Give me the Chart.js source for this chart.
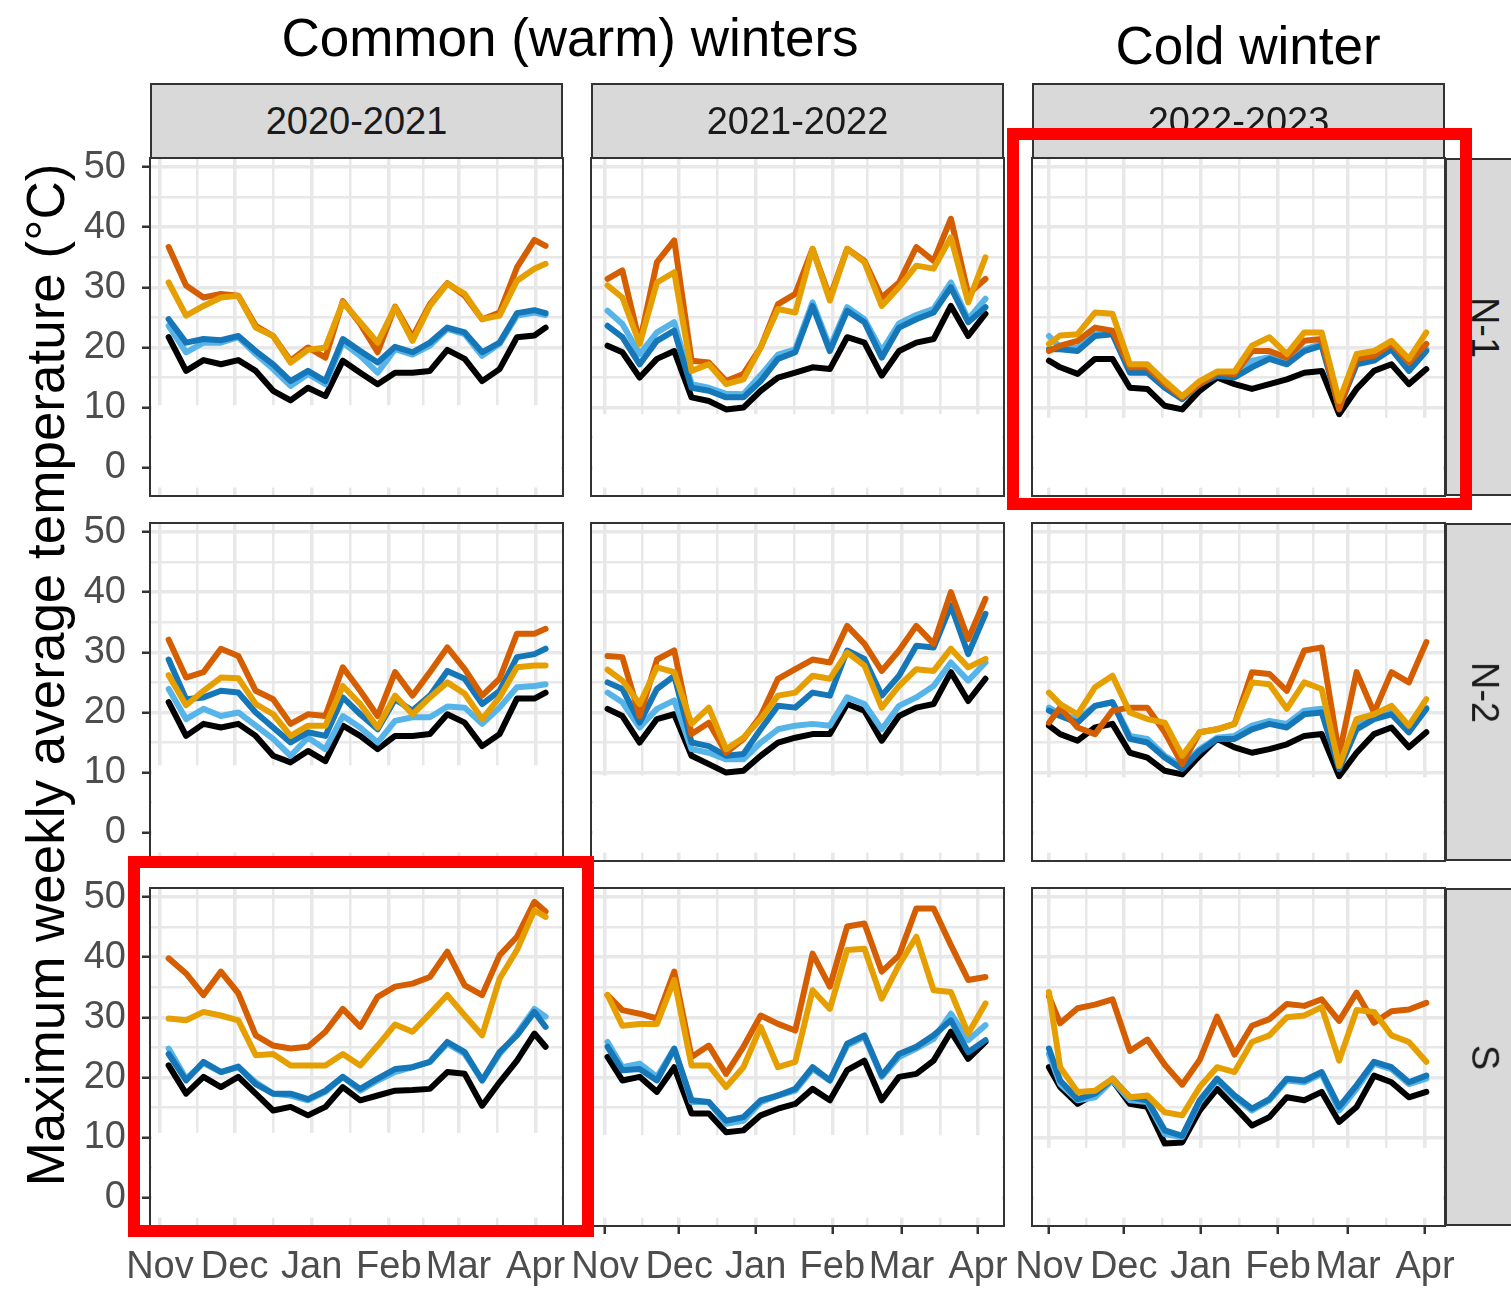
<!DOCTYPE html>
<html>
<head>
<meta charset="utf-8">
<script src="https://cdn.jsdelivr.net/npm/chart.js@4.4.1/dist/chart.umd.min.js"></script>
<style>
html, body { margin: 0; padding: 0; background: #fff; overflow: hidden; }
body { width: 1511px; height: 1290px; position: relative; font-family: "Liberation Sans", Arial, sans-serif; }
canvas { position: absolute; }
.strip { position: absolute; background: #d9d9d9; border: 2px solid #333; box-sizing: border-box; color: #1a1a1a;
         font-size: 38px; display: flex; align-items: center; justify-content: center; z-index: 2; }
.rot { transform: rotate(90deg); white-space: nowrap; }
.title { position: absolute; font-size: 53px; color: #000; white-space: nowrap; transform: translate(-50%, -50%); }
.redbox { position: absolute; border: 12px solid #ff0000; box-sizing: border-box; z-index: 10; }
</style>
</head>
<body>
<div class="title" style="left:570px; top:37px;">Common (warm) winters</div>
<div class="title" style="left:1248px; top:45px;">Cold winter</div>
<div class="title" style="left:45px; top:675px; transform: translate(-50%, -50%) rotate(-90deg);">Maximum weekly average temperature (°C)</div>

<script>
// facets
const seasons = ['2020-2021', '2021-2022', '2022-2023'];
const regions = ['N-1', 'N-2', 'S'];

// week positions, days since 1 Nov
const weekDays2021 = [3.5, 10.5, 17.5, 24.5, 31.5, 38.5, 45.5, 52.5, 59.5, 66.5, 73.5, 80.5, 87.5, 94.5, 101.5, 108.5, 115.5, 122.5, 129.5, 136.5, 143.5, 150.5, 155];
const weekDays2122 = [1, 7, 14, 21, 28, 35, 42, 49, 56, 63, 70, 77, 84, 91, 98, 105, 112, 119, 126, 133, 140, 147, 154];
const weekDays2223 = [0, 4.5, 11.5, 18.5, 25.5, 32.5, 39.5, 46.5, 53.5, 60.5, 67.5, 74.5, 81.5, 88.5, 95.5, 102.5, 109.5, 116.5, 123.5, 130.5, 137.5, 144.5, 151.5];

// axis ticks
const monthTicks = [0, 30, 61, 92, 120, 151];
const monthLabels = ['Nov', 'Dec', 'Jan', 'Feb', 'Mar', 'Apr'];
const midMonthTicks = [15, 45.5, 76.5, 106, 135.5];
const tempTicks = [0, 10, 20, 30, 40, 50];
const tempMinorTicks = [5, 15, 25, 35, 45];

// N-1
const n1_2021_black  = [21.7,16.1,17.9,17.2,17.9,16.1,12.8,11.2,13.3,11.9,17.8,15.8,13.9,15.8,15.8,16.1,19.6,18.1,14.4,16.4,21.7,22.0,23.3];
const n1_2021_sky    = [23.6,19.2,20.8,20.8,21.7,18.9,16.4,13.6,15.6,13.9,20.8,18.6,15.8,19.7,18.8,20.3,23.1,22.2,18.6,20.6,25.3,25.8,25.4];
const n1_2021_blue   = [24.7,20.8,21.4,21.2,21.9,19.4,17.2,14.4,16.1,14.4,21.4,19.4,17.5,20.1,19.2,20.8,23.3,22.5,19.2,20.8,25.7,26.2,25.7];
const n1_2021_orange = [30.8,25.3,26.9,28.3,28.6,23.3,21.9,17.5,19.6,20.0,27.5,24.2,20.8,26.7,21.1,26.9,30.6,28.9,24.7,25.3,31.1,33.1,33.9];
const n1_2021_verm   = [36.7,30.3,28.3,28.9,28.6,23.6,21.9,17.8,20.0,18.3,27.7,23.9,19.2,26.8,21.7,27.2,30.7,28.6,24.7,25.8,33.3,37.9,36.9];

const n1_2122_black  = [20.3,19.2,15.0,18.1,19.4,11.7,11.1,9.7,10.0,12.8,15.0,15.8,16.7,16.4,21.7,20.8,15.3,19.4,20.8,21.4,26.9,21.9,25.6];
const n1_2122_sky    = [26.1,23.9,18.9,22.5,24.2,13.9,13.3,12.3,12.2,15.4,18.8,19.7,27.5,20.0,26.7,24.7,19.4,24.0,25.4,26.4,30.8,24.7,28.1];
const n1_2122_blue   = [23.6,21.7,17.2,21.1,22.8,13.3,12.8,11.7,11.7,14.4,18.1,19.2,26.9,19.4,26.1,24.2,18.3,23.3,24.7,25.8,30.0,24.2,26.7];
const n1_2122_orange = [30.3,28.3,20.6,30.8,32.5,16.1,17.2,13.9,14.7,20.0,26.4,25.8,36.4,27.8,36.4,34.2,26.9,30.0,33.6,33.1,38.3,27.5,35.0];
const n1_2122_verm   = [31.4,32.8,20.8,34.2,37.8,17.8,17.5,14.4,15.6,20.0,27.2,28.9,36.4,28.3,36.4,34.4,28.3,30.8,36.7,34.4,41.4,28.9,31.4];

const n1_2223_black  = [17.8,16.7,15.6,18.1,18.1,13.3,13.1,10.3,9.7,12.8,15.0,13.9,13.1,13.9,14.7,15.8,16.1,8.9,13.1,16.1,17.2,13.9,16.4];
const n1_2223_sky    = [21.9,20.0,20.0,22.2,22.5,16.1,16.1,13.6,11.7,14.2,15.4,15.4,17.8,18.4,17.6,19.7,20.6,10.3,17.5,18.1,20.0,16.7,19.7];
const n1_2223_blue   = [19.7,19.7,19.4,21.9,22.2,15.8,15.8,13.3,11.4,13.9,15.3,15.0,16.7,18.1,17.2,19.4,20.3,10.0,17.2,17.8,19.7,16.1,19.4];
const n1_2223_orange = [20.6,22.0,22.2,25.8,25.6,17.2,17.2,14.4,11.9,14.4,16.0,16.0,20.3,21.7,18.9,22.5,22.5,11.1,18.9,19.4,21.1,18.1,22.5];
const n1_2223_verm   = [19.4,20.3,21.1,23.3,22.8,16.7,16.7,13.9,11.7,13.9,15.8,15.6,19.4,19.4,18.3,21.1,21.4,9.7,18.1,18.6,20.6,17.5,20.6];

// N-2
const n2_2021_black  = [21.7,16.1,18.1,17.5,18.1,16.1,12.8,11.7,13.6,11.9,17.8,16.1,13.9,16.1,16.1,16.4,19.7,18.3,14.4,16.4,22.3,22.3,23.3];
const n2_2021_sky    = [23.9,18.9,20.6,19.4,20.0,17.8,15.6,12.8,15.8,13.9,19.4,17.5,15.0,18.6,19.2,19.2,21.0,20.8,18.1,20.8,24.2,24.4,24.7];
const n2_2021_blue   = [28.8,22.2,22.5,23.6,23.3,20.0,17.5,15.0,16.7,16.1,22.5,19.7,17.2,22.2,20.3,22.8,26.9,25.6,21.4,23.6,29.2,29.7,30.6];
const n2_2021_orange = [26.2,21.2,23.6,25.8,25.7,21.4,19.7,16.1,17.8,17.8,24.4,21.4,17.5,22.8,19.7,22.5,25.0,23.1,18.9,22.5,27.5,27.8,27.8];
const n2_2021_verm   = [32.1,25.8,26.7,30.6,29.4,23.6,22.2,18.1,19.7,19.4,27.5,23.6,19.4,26.7,22.8,26.7,30.8,27.2,22.8,25.6,33.1,33.1,33.9];

const n2_2122_black  = [20.6,19.4,15.0,18.9,19.7,12.8,11.4,10.0,10.3,12.8,15.0,15.8,16.4,16.4,21.4,20.3,15.3,19.4,20.8,21.4,26.7,21.9,25.6];
const n2_2122_sky    = [23.3,21.7,17.5,20.6,22.0,13.9,13.3,12.2,12.2,15.0,17.2,17.8,18.1,17.8,22.5,21.4,17.2,21.1,22.5,24.4,28.3,25.3,28.3];
const n2_2122_blue   = [25.0,23.9,18.3,23.9,26.1,15.0,14.4,12.8,13.1,17.2,21.1,20.8,23.3,22.8,30.3,28.9,22.8,26.1,31.1,30.8,37.8,29.7,36.4];
const n2_2122_orange = [27.1,25.3,21.4,27.5,26.7,18.1,20.8,13.9,15.8,18.9,22.8,23.3,26.1,25.6,30.0,27.8,20.8,24.4,27.2,26.9,30.6,27.5,28.9];
const n2_2122_verm   = [29.4,29.2,19.4,28.8,30.3,16.4,18.3,13.3,15.6,19.4,25.6,27.2,28.8,28.3,34.4,31.4,26.9,30.3,34.4,31.4,40.0,32.2,38.9];

const n2_2223_black  = [17.8,16.4,15.3,17.5,18.1,13.3,12.5,10.3,9.7,12.8,15.6,14.2,13.3,13.9,14.7,16.1,16.4,9.4,13.3,16.4,17.5,14.2,16.7];
const n2_2223_sky    = [20.8,19.7,18.9,21.1,21.7,16.1,15.6,12.8,11.1,13.9,15.8,16.1,17.8,18.6,18.1,20.3,20.6,11.7,17.8,19.4,20.3,17.2,20.8];
const n2_2223_blue   = [20.3,19.4,18.3,21.1,21.7,15.6,15.0,12.5,10.6,13.6,15.6,15.6,17.2,18.1,17.5,19.7,20.0,10.6,17.2,18.9,19.7,16.7,20.6];
const n2_2223_orange = [23.3,21.4,19.7,24.2,26.1,20.0,18.9,18.3,12.8,16.7,17.2,18.1,25.0,24.7,20.6,25.0,23.9,11.1,18.9,19.7,21.1,17.8,22.2];
const n2_2223_verm   = [18.3,20.8,17.5,16.4,20.3,20.8,20.8,16.7,11.4,16.7,17.2,18.1,26.7,26.4,23.6,30.3,30.8,13.0,26.7,20.0,26.7,25.0,31.7];

// S
const s_2021_black  = [22.0,17.3,20.1,18.4,20.1,17.3,14.5,15.1,13.7,15.1,18.4,16.2,17.0,17.8,17.9,18.1,20.9,20.6,15.3,19.2,22.8,27.3,25.1];
const s_2021_sky    = [24.8,19.8,22.4,20.9,21.7,19.2,17.3,17.0,16.2,17.6,20.1,17.8,19.5,20.9,21.7,22.6,25.6,23.9,19.5,23.9,27.3,31.4,30.1];
const s_2021_blue   = [23.9,19.5,22.6,20.9,21.8,18.9,17.3,17.3,16.4,17.8,20.1,18.1,19.8,21.4,21.7,22.6,25.9,24.2,19.5,24.2,27.0,30.9,28.4];
const s_2021_orange = [29.8,29.5,30.9,30.3,29.5,23.7,23.9,22.0,22.0,22.0,23.9,22.0,25.3,28.8,27.6,30.6,33.7,30.3,27.0,36.4,41.2,47.8,46.7];
const s_2021_verm   = [39.8,37.3,33.7,37.6,34.0,27.0,25.3,24.8,25.1,27.6,31.4,28.4,33.4,35.1,35.6,36.7,40.9,35.3,33.7,40.3,43.4,49.2,47.6];

const s_2122_black  = [23.4,19.5,20.1,17.6,21.7,14.0,14.0,10.9,11.2,13.7,14.8,15.6,18.1,16.2,21.2,22.8,16.2,20.1,20.6,22.8,27.6,23.1,25.9];
const s_2122_sky    = [25.9,21.7,22.3,20.1,24.8,15.9,15.9,12.3,12.8,15.9,17.0,17.8,21.4,19.5,25.3,26.7,20.1,23.4,24.8,26.4,30.6,26.2,28.7];
const s_2122_blue   = [25.1,21.2,21.4,19.5,24.8,16.2,15.9,12.8,13.4,16.2,17.0,18.1,21.7,19.5,25.6,27.0,20.3,23.9,25.1,27.0,29.5,24.2,26.2];
const s_2122_orange = [33.7,28.6,28.9,28.9,36.2,22.0,22.0,18.4,21.7,28.4,21.7,22.6,34.5,31.4,41.2,41.4,33.1,38.7,43.4,34.5,34.2,27.3,32.3];
const s_2122_verm   = [33.7,31.2,30.6,29.8,37.6,23.4,25.3,20.6,25.1,30.3,28.9,27.8,40.6,35.1,45.1,45.6,37.6,40.3,48.1,48.1,42.0,36.2,36.7];

const s_2223_black  = [21.7,18.4,15.6,17.3,19.5,15.6,15.1,9.0,9.2,14.5,18.1,15.1,12.0,13.4,16.7,16.2,17.6,12.6,15.1,20.3,19.2,16.7,17.6];
const s_2223_sky    = [23.9,18.9,16.2,16.7,19.5,16.2,15.9,10.6,10.1,15.9,19.5,16.7,14.5,16.2,19.5,19.2,20.6,14.5,18.1,22.3,21.4,18.9,19.8];
const s_2223_blue   = [24.8,19.5,16.4,17.3,19.8,16.7,16.2,11.2,10.3,16.2,19.8,17.0,14.8,16.4,19.8,19.5,20.9,15.1,18.7,22.6,21.7,19.2,20.3];
const s_2223_orange = [34.2,21.7,17.6,17.8,19.8,16.7,17.0,14.2,13.7,18.4,21.7,20.9,25.9,27.0,30.0,30.3,31.7,22.8,31.2,30.9,27.0,25.9,22.6];
const s_2223_verm   = [33.5,29.0,31.5,32.1,33.0,24.4,26.3,22.1,18.8,22.9,30.1,23.8,28.6,29.7,32.2,31.9,33.0,29.4,34.1,29.1,31.0,31.3,32.4];

// rows = regions, cols = seasons; each [black, sky, blue, orange, verm]
const panels = [
  [[n1_2021_black, n1_2021_sky, n1_2021_blue, n1_2021_orange, n1_2021_verm],
   [n1_2122_black, n1_2122_sky, n1_2122_blue, n1_2122_orange, n1_2122_verm],
   [n1_2223_black, n1_2223_sky, n1_2223_blue, n1_2223_orange, n1_2223_verm]],
  [[n2_2021_black, n2_2021_sky, n2_2021_blue, n2_2021_orange, n2_2021_verm],
   [n2_2122_black, n2_2122_sky, n2_2122_blue, n2_2122_orange, n2_2122_verm],
   [n2_2223_black, n2_2223_sky, n2_2223_blue, n2_2223_orange, n2_2223_verm]],
  [[s_2021_black, s_2021_sky, s_2021_blue, s_2021_orange, s_2021_verm],
   [s_2122_black, s_2122_sky, s_2122_blue, s_2122_orange, s_2122_verm],
   [s_2223_black, s_2223_sky, s_2223_blue, s_2223_orange, s_2223_verm]]
];
const weekDays = [weekDays2021, weekDays2122, weekDays2223];
const lineColors = ['#000000', '#56B4E9', '#1577b8', '#E69F00', '#D55E00'];

// layout
const colX = [150, 591, 1032];
const rowY = [158, 523, 888];
const PW = 413, PH = 338, PAD = 50, YAX = 70, XAX = 64;
const xRange = [[-4, 162], [-5.7, 161.5], [-6.8, 159]];
// the reference has the lower band of each panel blanked out
const blankTop = [[10.4, 8.9, 8.3], [11.2, 9.5, 9.2], [10.8, 10.4, 8.3]];
const FONT = '"Liberation Sans", Arial, sans-serif';

const frame = {
  id: 'frame',
  afterDraw(chart) {
    const a = chart.chartArea, c = chart.ctx;
    c.save();
    c.strokeStyle = '#333';
    c.lineWidth = 2;
    c.strokeRect(a.left, a.top, a.right - a.left, a.bottom - a.top);
    c.restore();
  }
};
const blank = {
  id: 'blank',
  beforeDatasetsDraw(chart, args, opts) {
    const a = chart.chartArea, y = chart.scales.y, c = chart.ctx;
    const t = y.getPixelForValue(opts.top), b = y.getPixelForValue(-3.3);
    c.save();
    c.fillStyle = '#fff';
    c.fillRect(a.left + 2, t, a.right - a.left - 4, b - t);
    c.restore();
  }
};

function makePanel(r, c) {
  const left = c === 0, bottom = r === 2;
  const cv = document.createElement('canvas');
  const w = PAD + (left ? YAX : 0) + PW + PAD;
  const h = PAD + PH + (bottom ? XAX : 0) + PAD;
  cv.width = w; cv.height = h;
  cv.style.left = (colX[c] - (left ? YAX : 0) - PAD) + 'px';
  cv.style.top = (rowY[r] - PAD) + 'px';
  document.body.appendChild(cv);

  const order = [3, 4, 2, 1, 0]; // first dataset is drawn on top
  const datasets = order.map(k => ({
    data: weekDays[c].map((d, i) => ({ x: d, y: panels[r][c][k][i] })),
    borderColor: lineColors[k],
    borderWidth: 6,
    borderJoinStyle: 'round',
    borderCapStyle: 'round',
    pointRadius: 0,
    tension: 0
  }));

  const xAll = monthTicks.concat(midMonthTicks).sort((a, b) => a - b);
  const yAll = tempTicks.concat(tempMinorTicks).sort((a, b) => a - b);

  new Chart(cv, {
    type: 'line',
    data: { datasets },
    plugins: [frame, blank],
    options: {
      responsive: false,
      animation: false,
      devicePixelRatio: 1,
      layout: { padding: PAD },
      plugins: { legend: { display: false }, tooltip: { enabled: false }, blank: { top: blankTop[r][c] } },
      scales: {
        x: {
          type: 'linear',
          min: xRange[c][0], max: xRange[c][1],
          afterBuildTicks: s => { s.ticks = xAll.map(v => ({ value: v })); },
          afterFit: s => { s.height = bottom ? XAX : 0; },
          border: { display: false },
          grid: {
            color: '#e8e8e8',
            lineWidth: ctx => monthTicks.includes(ctx.tick.value) ? 3.5 : 2.5,
            drawTicks: bottom,
            tickLength: 8,
            tickWidth: 2.5,
            tickColor: ctx => monthTicks.includes(ctx.tick.value) ? '#333' : 'rgba(0,0,0,0)'
          },
          ticks: {
            display: bottom,
            autoSkip: false, maxRotation: 0, minRotation: 0,
            padding: 11,
            color: '#4d4d4d',
            font: { size: 38, family: FONT },
            callback: v => { const i = monthTicks.indexOf(v); return i >= 0 ? monthLabels[i] : ''; }
          }
        },
        y: {
          type: 'linear',
          min: -4.7, max: 51.5,
          afterBuildTicks: s => { s.ticks = yAll.map(v => ({ value: v })); },
          afterFit: s => { s.width = left ? YAX : 0; },
          border: { display: false },
          grid: {
            color: '#e8e8e8',
            lineWidth: ctx => tempTicks.includes(ctx.tick.value) ? 3.5 : 2.5,
            drawTicks: left,
            tickLength: 8,
            tickWidth: 2.5,
            tickColor: ctx => tempTicks.includes(ctx.tick.value) ? '#333' : 'rgba(0,0,0,0)'
          },
          ticks: {
            display: left,
            autoSkip: false,
            padding: 16,
            color: '#4d4d4d',
            font: { size: 38, family: FONT },
            callback: v => tempTicks.includes(v) ? String(v) : ''
          }
        }
      }
    }
  });
}

for (let r = 0; r < 3; r++) for (let c = 0; c < 3; c++) makePanel(r, c);

// facet strips
seasons.forEach((s, c) => {
  const d = document.createElement('div');
  d.className = 'strip';
  d.style.cssText = `left:${colX[c]}px; top:83px; width:${PW}px; height:76px;`;
  d.textContent = s;
  document.body.appendChild(d);
});
regions.forEach((g, r) => {
  const d = document.createElement('div');
  d.className = 'strip';
  d.style.cssText = `left:1445px; top:${rowY[r]}px; width:80px; height:${PH}px;`;
  d.innerHTML = `<span class="rot">${g}</span>`;
  document.body.appendChild(d);
});

// highlight boxes
[[1007, 128, 465, 382], [128, 856, 466, 381]].forEach(([x, y, w, h]) => {
  const d = document.createElement('div');
  d.className = 'redbox';
  d.style.cssText = `left:${x}px; top:${y}px; width:${w}px; height:${h}px;`;
  document.body.appendChild(d);
});
</script>
</body>
</html>
